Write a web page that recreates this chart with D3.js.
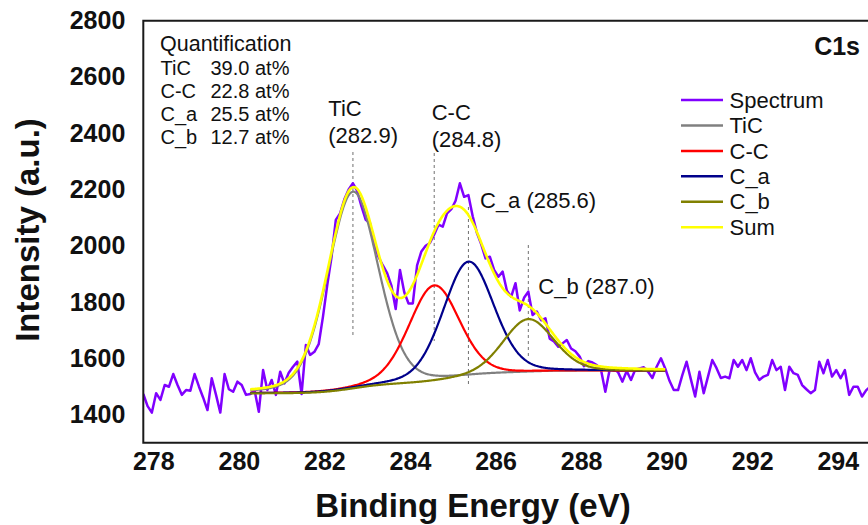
<!DOCTYPE html>
<html>
<head>
<meta charset="utf-8">
<script src="https://cdn.jsdelivr.net/npm/d3@7"></script>
<style>
  body { margin: 0; background: #fff; }
  svg { display: block; }
  text { font-family: "Liberation Sans", Arial, Helvetica, sans-serif; fill: #111; }
</style>
</head>
<body>
<svg id="chart" width="868" height="525"></svg>
<script>
// ---- C1s spectrum, recorded in 0.1 eV steps from 278.0 eV ----
const energyStart = 278.0;
const energyStep = 0.1;
const spectrum = [
  1473,1430,1407,1476,1452,1505,1499,1544,1505,1470,
  1487,1485,1544,1500,1460,1416,1529,1470,1407,1544,
  1490,1481,1517,1505,1470,1473,1487,1410,1558,1487,
  1523,1470,1552,1511,1549,1570,1588,1473,1647,1612,
  1623,1650,1748,1860,1960,2092,2115,2165,2200,2222,
  2195,2140,2092,2080,2000,1960,1930,1903,1858,1775,
  1914,1835,1795,1795,1930,1980,2000,2010,2040,2075,
  2068,2115,2130,2160,2222,2174,2180,2105,2045,2005,
  1955,1961,1914,1890,1908,1840,1819,1867,1770,1815,
  1837,1754,1766,1735,1742,1670,1660,1641,1653,1665,
  1635,1625,1606,1572,1590,1585,1576,1558,1481,1558,
  1562,1550,1517,1555,1523,1560,1564,1568,1552,1530,
  1570,1600,1564,1520,1487,1487,1540,1588,1525,1464,
  1552,1476,1535,1594,1565,1530,1535,1529,1594,1570,
  1594,1558,1600,1550,1523,1535,1541,1594,1558,1570,
  1487,1570,1547,1541,1505,1490,1476,1487,1588,1547,
  1594,1535,1558,1529,1558,1470,1499,1499,1464,1487,
  1500
];

// ---- Peak fit (Gaussian–Lorentzian components on a Shirley background) ----
const peakNames   = ["TiC", "C-C", "C_a", "C_b"];
const peakCenters = [282.9, 284.8, 285.6, 287.0];   // eV
const peakHeights = [700, 340, 410, 190];           // counts above background
const peakFwhm    = [1.4, 1.4, 1.4, 1.4];           // eV
const lorentzFraction = 0.2;
const fitRange    = [280.5, 290.2];                 // eV
const backgroundEnds = [1475, 1555];                // counts at fit-range ends

// ---- Quantification ----
const quantNames  = ["TiC", "C-C", "C_a", "C_b"];
const quantValues = [39.0, 22.8, 25.5, 12.7];       // at%

// ---- Axes ----
const xTicks = [278, 280, 282, 284, 286, 288, 290, 292, 294];
const yTicks = [1400, 1600, 1800, 2000, 2200, 2400, 2600, 2800];
const xDomain = [278, 296];
const yDomain = [1300, 2800];

// ---- Legend ----
const legendNames = ["Spectrum", "TiC", "C-C", "C_a", "C_b", "Sum"];

// ---------------------------------------------------------------
const colors = {
  Spectrum: "#8000ff", TiC: "#808080", "C-C": "#ff0000",
  C_a: "#00008b", C_b: "#808000", Sum: "#ffff00"
};

const plot = { left: 143.3, top: 20.7, bottom: 442.7, pxPerEv: 42.78 };
const x = d3.scaleLinear().domain(xDomain)
  .range([plot.left, plot.left + (xDomain[1] - xDomain[0]) * plot.pxPerEv]);
const y = d3.scaleLinear().domain(yDomain).range([plot.bottom, plot.top]);

const svg = d3.select("#chart");

svg.append("defs").append("clipPath").attr("id", "plotClip")
  .append("rect")
  .attr("x", x.range()[0]).attr("y", plot.top)
  .attr("width", x.range()[1] - x.range()[0])
  .attr("height", plot.bottom - plot.top);

// ---- Axes with tick labels only ----
const fontAttrs = g => g
  .attr("font-family", "'Liberation Sans', Arial, sans-serif")
  .attr("font-size", 25).attr("font-weight", "bold");

const yAxis = svg.append("g")
  .attr("transform", `translate(${plot.left},0)`)
  .call(d3.axisLeft(y).tickValues(yTicks).tickSize(0).tickPadding(18)
    .tickFormat(d3.format("d")))
  .call(fontAttrs);
yAxis.select(".domain").remove();
yAxis.selectAll("text").attr("fill", "#111");

const xAxis = svg.append("g")
  .attr("transform", `translate(0,${plot.bottom})`)
  .call(d3.axisBottom(x).tickValues(xTicks).tickSize(0).tickPadding(10)
    .tickFormat(d3.format("d")))
  .call(fontAttrs);
xAxis.select(".domain").remove();
xAxis.selectAll("text").attr("fill", "#111").attr("dx", 10);

// axis titles
svg.append("text")
  .attr("transform", "translate(39,230) rotate(-90)")
  .attr("text-anchor", "middle")
  .attr("font-size", 33).attr("font-weight", "bold")
  .text("Intensity (a.u.)");
svg.append("text")
  .attr("x", 473).attr("y", 516.5)
  .attr("text-anchor", "middle")
  .attr("font-size", 33).attr("font-weight", "bold")
  .text("Binding Energy (eV)");

// ---- Fit model ----
function glPeak(e, c, h, w) {
  const t = 4 * (e - c) * (e - c) / (w * w);
  return h * ((1 - lorentzFraction) * Math.exp(-Math.LN2 * t) + lorentzFraction / (1 + t));
}
const fitStep = 0.02;
const fitEnergies = d3.range(fitRange[0], fitRange[1] + fitStep / 2, fitStep);
const comps = peakNames.map((n, k) =>
  fitEnergies.map(e => glPeak(e, peakCenters[k], peakHeights[k], peakFwhm[k])));
const peakTotal = fitEnergies.map((e, i) => d3.sum(comps, c => c[i]));
// Shirley-type background: rises in proportion to the peak area at lower binding energy
const cumArea = [0];
for (let i = 1; i < fitEnergies.length; i++) {
  cumArea.push(cumArea[i - 1] + 0.5 * (peakTotal[i] + peakTotal[i - 1]) * fitStep);
}
const totalArea = cumArea[cumArea.length - 1];
const background = cumArea.map(a => backgroundEnds[0] + (backgroundEnds[1] - backgroundEnds[0]) * a / totalArea);

const plotG = svg.append("g").attr("clip-path", "url(#plotClip)");

// ---- Peak position markers ----
const markerLayout = [
  { top: 152, bottom: 338 },
  { top: 153, bottom: 341 },
  { top: 207, bottom: 387 },
  { top: 245, bottom: 357 }
];
plotG.selectAll("line.marker").data(peakCenters).join("line")
  .attr("class", "marker")
  .attr("x1", d => x(d)).attr("x2", d => x(d))
  .attr("y1", (d, k) => markerLayout[k].top)
  .attr("y2", (d, k) => markerLayout[k].bottom)
  .attr("stroke", "#707070").attr("stroke-width", 1)
  .attr("stroke-dasharray", "3,3");

// ---- Spectrum ----
const specLine = d3.line()
  .x((d, i) => x(energyStart + i * energyStep))
  .y(d => y(d));
plotG.append("path").datum(spectrum)
  .attr("d", specLine)
  .attr("fill", "none").attr("stroke", colors.Spectrum)
  .attr("stroke-width", 2.5).attr("stroke-linejoin", "round");

// ---- Components ----
const fitLine = d3.line().x(d => x(d[0])).y(d => y(d[1]));
peakNames.forEach((n, k) => {
  const pts = fitEnergies.map((e, i) => [e, background[i] + comps[k][i]]);
  plotG.append("path").datum(pts)
    .attr("d", fitLine)
    .attr("fill", "none").attr("stroke", colors[n])
    .attr("stroke-width", 2.2);
});

// ---- Sum envelope ----
plotG.append("path")
  .datum(fitEnergies.map((e, i) => [e, background[i] + peakTotal[i]]))
  .attr("d", fitLine)
  .attr("fill", "none").attr("stroke", colors.Sum)
  .attr("stroke-width", 2.6);

// ---- Frame ----
svg.append("path")
  .attr("d", `M${x.range()[1]},${plot.top}H${plot.left}V${plot.bottom}H${x.range()[1]}`)
  .attr("fill", "none").attr("stroke", "#1a1a1a").attr("stroke-width", 2);

// ---- Peak labels ----
const labelLayout = [
  { x: 328.3, y: 115.7, twoLines: true },
  { x: 431.7, y: 120, twoLines: true },
  { x: 480, y: 208.3, twoLines: false },
  { x: 538.3, y: 294.3, twoLines: false }
];
peakNames.forEach((n, k) => {
  const L = labelLayout[k];
  const pos = `(${peakCenters[k].toFixed(1)})`;
  if (L.twoLines) {
    const t = svg.append("text").attr("font-size", 22);
    t.append("tspan").attr("x", L.x).attr("y", L.y).text(n);
    t.append("tspan").attr("x", L.x).attr("y", L.y + 27.3).text(pos);
  } else {
    svg.append("text").attr("x", L.x).attr("y", L.y)
      .attr("font-size", 22).text(`${n} ${pos}`);
  }
});

// ---- Quantification table ----
svg.append("text").attr("x", 160).attr("y", 51)
  .attr("font-size", 21.5).text("Quantification");
quantNames.forEach((n, k) => {
  const yy = 75.3 + k * 22.9;
  svg.append("text").attr("x", 160.5).attr("y", yy).attr("font-size", 20).text(n);
  svg.append("text").attr("x", 210.5).attr("y", yy).attr("font-size", 20)
    .text(`${quantValues[k].toFixed(1)} at%`);
});

// ---- Core level tag ----
svg.append("text").attr("x", 860).attr("y", 54.5)
  .attr("text-anchor", "end").attr("font-size", 25).attr("font-weight", "bold")
  .text("C1s");

// ---- Legend ----
const legend = svg.append("g").attr("transform", "translate(681,100)");
legendNames.forEach((n, k) => {
  const row = legend.append("g").attr("transform", `translate(0,${k * 25.45})`);
  row.append("line").attr("x1", 0).attr("x2", 42).attr("y1", 0).attr("y2", 0)
    .attr("stroke", colors[n]).attr("stroke-width", 2.5);
  row.append("text").attr("x", 48.5).attr("y", 7.6).attr("font-size", 22).text(n);
});
</script>
</body>
</html>
